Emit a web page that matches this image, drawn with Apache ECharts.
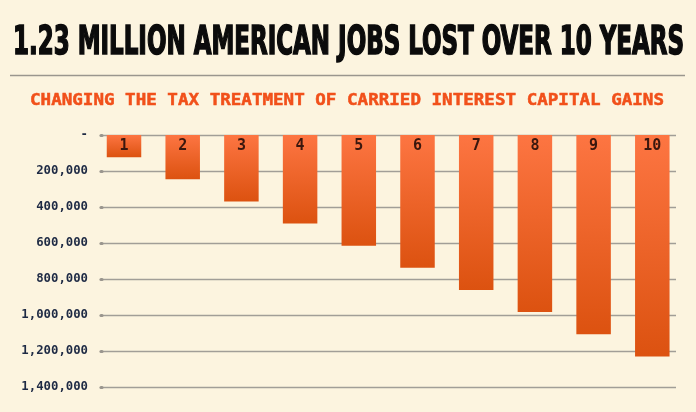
<!DOCTYPE html>
<html>
<head>
<meta charset="utf-8">
<script src="https://cdn.jsdelivr.net/npm/echarts@6/dist/echarts.min.js"></script>
<style>
html,body{margin:0;padding:0;background:#fcf4df;}
#chart{width:696px;height:412px;}
</style>
</head>
<body>
<div id="chart"></div>
<script>
// ---- data ----
const titleText = '1.23 MILLION AMERICAN JOBS LOST OVER 10 YEARS';
const subtitleText = 'CHANGING THE TAX TREATMENT OF CARRIED INTEREST CAPITAL GAINS';
const years = ['1', '2', '3', '4', '5', '6', '7', '8', '9', '10'];
const jobsLost = [123000, 246000, 369000, 492000, 615000, 738000, 861000, 984000, 1107000, 1230000];
const yTicks = [0, 200000, 400000, 600000, 800000, 1000000, 1200000, 1400000];

const yMin = yTicks[0], yMax = yTicks[yTicks.length - 1], yStep = yTicks[1] - yTicks[0];

function measure(text, font) {
  const c = document.createElement('canvas').getContext('2d');
  c.font = font;
  return c.measureText(text).width;
}
const titleFont = 'bold 39px "DejaVu Sans Condensed"';
const titleScale = 671 / measure(titleText, titleFont);
const subFont = 'bold 16px "DejaVu Sans Mono"';
const subScale = 634 / measure(subtitleText, subFont);

const fmt = v => v === 0 ? '-' : v.toLocaleString('en-US');

const chart = echarts.init(document.getElementById('chart'));
chart.setOption({
  backgroundColor: '#fcf4df',
  animation: false,
  graphic: [
    { type: 'text', x: 13, y: 44, scaleX: titleScale,
      style: { text: titleText, font: titleFont, fill: '#0b0b0b', stroke: '#0b0b0b', lineWidth: 1.6,
               verticalAlign: 'middle', align: 'left' } },
    { type: 'line', shape: { x1: 10, y1: 75.5, x2: 685, y2: 75.5 },
      style: { stroke: '#9a968e', lineWidth: 1.3 } },
    { type: 'text', x: 347, y: 100.5, scaleX: subScale,
      style: { text: subtitleText, font: subFont, fill: '#f1501a', stroke: '#f1501a', lineWidth: 0.5,
               verticalAlign: 'middle', align: 'center' } }
  ],
  grid: [
    { left: 94.65, top: 135, width: 587, height: 252 },
    { left: 102, top: 135, width: 574, height: 252 }
  ],
  xAxis: [
    { type: 'category', gridIndex: 0, data: years, show: false },
    { type: 'value', gridIndex: 1, min: 0, max: 1, show: false }
  ],
  yAxis: [
    { type: 'value', gridIndex: 0, inverse: true, min: yMin, max: yMax, interval: yStep, show: false },
    { type: 'value', gridIndex: 1, inverse: true, min: yMin, max: yMax, interval: yStep,
      axisLine: { show: false },
      axisTick: { show: true, length: 1, lineStyle: { color: '#9a968e', width: 3.2, cap: 'round' } },
      axisLabel: {
        formatter: fmt, margin: 14, color: '#1e2a44',
        fontFamily: 'DejaVu Sans Mono', fontWeight: 'bold', fontSize: 12.3,
        padding: [0, 0, 6, 0]
      },
      splitLine: { show: true, lineStyle: { color: '#a19e97', width: 1.3 } }
    }
  ],
  series: [
    {
      type: 'bar', xAxisIndex: 0, yAxisIndex: 0, data: jobsLost, barWidth: 34.5,
      itemStyle: {
        color: new echarts.graphic.LinearGradient(0, 0, 0, 1, [
          { offset: 0, color: '#fd7542' },
          { offset: 1, color: '#dc5210' }
        ])
      },
      label: {
        show: true, position: 'insideTop', distance: 4, formatter: '{b}',
        color: '#3a170e', fontFamily: 'DejaVu Sans Mono', fontWeight: 'bold', fontSize: 15
      },
      z: 3
    }
  ]
});
</script>
</body>
</html>
